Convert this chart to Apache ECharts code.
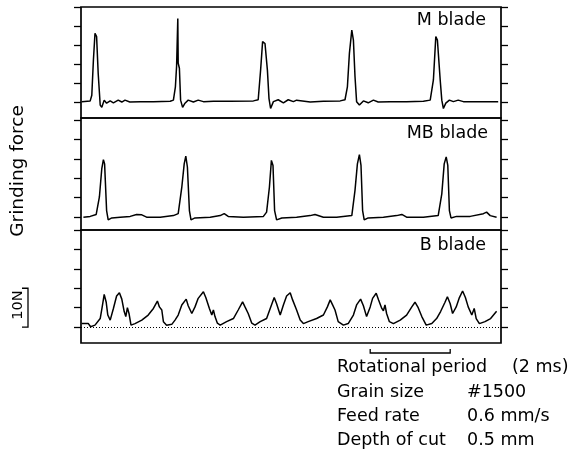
<!DOCTYPE html>
<html lang="en">
<head>
    <meta charset="UTF-8">
    <title>Grinding force</title>
    <script src="https://cdn.jsdelivr.net/npm/echarts@6/dist/echarts.min.js"></script>
    <style>
        body { margin: 0; background: #fff; }
        #main { width: 569px; height: 466px; }
    </style>
</head>
<body>
<div id="main"></div>
<script>
    // time in ms, force in N (baseline = 0)
    var mBlade = [
        [0.02, 0.1], [0.23, 0.3], [0.27, 1.8], [0.31, 11.0], [0.35, 18.1], [0.39, 17.2], [0.43, 7.5], [0.48, -0.8],
        [0.52, -1.4], [0.58, 0.5], [0.64, -0.3], [0.73, 0.3], [0.81, -0.2], [0.93, 0.5], [1.02, 0.0], [1.10, 0.5],
        [1.22, 0.0], [1.48, 0.1], [1.81, 0.1], [2.23, 0.2], [2.31, 0.5], [2.36, 4.0], [2.39, 9.5], [2.41, 10.0],
        [2.42, 22.0], [2.43, 10.2], [2.46, 8.9], [2.49, 0.5], [2.54, -1.4], [2.60, -0.3], [2.68, 0.5], [2.81, 0.0],
        [2.93, 0.5], [3.06, 0.1], [3.31, 0.2], [3.73, 0.2], [4.31, 0.3], [4.43, 0.6], [4.49, 8.4], [4.54, 15.9],
        [4.60, 15.4], [4.66, 8.4], [4.70, 0.9], [4.74, -1.7], [4.81, 0.1], [4.93, 0.6], [5.06, -0.2], [5.18, 0.6],
        [5.31, 0.1], [5.39, 0.5], [5.73, 0.0], [6.06, 0.2], [6.48, 0.3], [6.60, 0.6], [6.66, 4.0], [6.71, 12.8],
        [6.77, 18.9], [6.81, 16.3], [6.85, 6.7], [6.89, 0.1], [6.96, -0.8], [7.06, 0.3], [7.18, -0.2], [7.31, 0.5],
        [7.43, 0.0], [7.73, 0.1], [8.14, 0.1], [8.56, 0.2], [8.73, 0.5], [8.81, 5.8], [8.87, 17.2], [8.91, 16.3],
        [8.98, 5.8], [9.02, 0.5], [9.06, -1.7], [9.12, -0.3], [9.21, 0.5], [9.31, 0.1], [9.43, 0.5], [9.56, 0.1],
        [9.89, 0.1], [10.31, 0.1], [10.43, 0.1]
    ];

    var mbBlade = [
        [0.06, 0], [0.23, 0.2], [0.38, 0.7], [0.46, 5.2], [0.52, 12.5], [0.56, 14.8], [0.59, 13.7], [0.64, 1.7],
        [0.68, -0.7], [0.77, -0.2], [0.98, 0], [1.23, 0.2], [1.39, 0.7], [1.52, 0.6], [1.64, 0], [1.98, 0],
        [2.31, 0.4], [2.43, 0.9], [2.52, 7.7], [2.58, 13.7], [2.62, 15.7], [2.66, 12.9], [2.71, 1.7], [2.75, -0.7],
        [2.85, -0.2], [3.23, 0], [3.48, 0.4], [3.58, 0.9], [3.68, 0.2], [4.06, 0], [4.56, 0.2], [4.64, 1.3],
        [4.71, 7.7], [4.76, 14.6], [4.80, 13.3], [4.84, 1.7], [4.89, -0.7], [5.02, -0.2], [5.39, 0], [5.73, 0.4],
        [5.85, 0.7], [6.06, 0], [6.39, 0], [6.77, 0.4], [6.85, 6.9], [6.91, 13.7], [6.96, 16.1], [7.00, 13.3],
        [7.04, 1.7], [7.08, -0.7], [7.18, -0.2], [7.56, 0], [7.89, 0.4], [8.02, 0.7], [8.14, 0], [8.56, 0],
        [8.93, 0.4], [9.02, 6.0], [9.08, 13.7], [9.13, 15.5], [9.17, 13.3], [9.21, 1.7], [9.25, -0.2], [9.39, 0.2],
        [9.73, 0.2], [10.06, 0.9], [10.14, 1.3], [10.23, 0.4], [10.39, 0]
    ];

    var bBlade = [
        [0.02, 0.95], [0.18, 0.95], [0.24, 0.1], [0.35, 0.5], [0.48, 2.2], [0.53, 5.2], [0.58, 8.4], [0.63, 6.4],
        [0.67, 3.1], [0.73, 1.8], [0.81, 4.8], [0.89, 8.0], [0.96, 8.85], [1.02, 7.2], [1.08, 4.0], [1.12, 2.7],
        [1.16, 5.0], [1.20, 3.5], [1.25, 0.5], [1.35, 0.9], [1.52, 1.8], [1.68, 3.1], [1.81, 4.8], [1.91, 6.7],
        [1.96, 5.2], [2.02, 4.4], [2.06, 1.4], [2.14, 0.5], [2.27, 0.7],
        [2.35, 1.8], [2.43, 3.1], [2.52, 5.7], [2.63, 7.2], [2.68, 5.5], [2.77, 3.5], [2.85, 5.2], [2.93, 7.4],
        [3.06, 9.1], [3.12, 7.6], [3.21, 4.8], [3.27, 3.1], [3.31, 4.4], [3.35, 2.7], [3.41, 1.0], [3.48, 0.5],
        [3.64, 1.4], [3.81, 2.2], [3.93, 4.4], [4.04, 6.5], [4.10, 5.2], [4.18, 3.5], [4.27, 1.0], [4.35, 0.5],
        [4.48, 1.4], [4.64, 2.2], [4.73, 4.8], [4.83, 7.6], [4.89, 6.0], [4.98, 3.1], [5.06, 5.7], [5.14, 8.0],
        [5.23, 8.85], [5.29, 7.0], [5.39, 4.4], [5.48, 1.8], [5.56, 0.9], [5.68, 1.4], [5.89, 2.2], [6.06, 3.1],
        [6.16, 5.2], [6.23, 7.0], [6.29, 5.7], [6.35, 4.4], [6.43, 1.4], [6.56, 0.5], [6.68, 0.9],
        [6.81, 3.1], [6.89, 5.7], [6.99, 7.2], [7.06, 5.5], [7.14, 2.7], [7.23, 5.2], [7.29, 7.4], [7.38, 8.7],
        [7.44, 7.0], [7.52, 4.8], [7.56, 4.2], [7.60, 5.7], [7.64, 3.5], [7.71, 1.4], [7.81, 0.9], [7.98, 1.8],
        [8.14, 3.1], [8.27, 5.2], [8.35, 6.4], [8.43, 5.0], [8.52, 2.7], [8.63, 0.5],
        [8.77, 0.9], [8.89, 2.2], [8.99, 4.0], [9.10, 6.4], [9.16, 7.8], [9.23, 6.0], [9.29, 3.5], [9.38, 5.2],
        [9.46, 7.6], [9.54, 9.3], [9.61, 7.6], [9.68, 5.2], [9.77, 3.1], [9.83, 4.8], [9.88, 2.2], [9.96, 0.9],
        [10.1, 1.4], [10.24, 2.2], [10.39, 4.1]
    ];

    var panelNames = ['M blade', 'MB blade', 'B blade'];
    var yTicks = [0, 5, 10, 15, 20, 25];
    var yMin = [-4.2, -3.3, -4.1];
    var yMax = [25, 25.5, 25];
    var xMax = 10.5;
    var rotStart = 7.23;   // ms
    var rotPeriod = 2;     // ms
    var scaleBarN = 10;    // N
    var conditions = [
        ['Grain size', '#1500'],
        ['Feed rate', '0.6 mm/s'],
        ['Depth of cut', '0.5 mm']
    ];

    var font = 'DejaVu Sans';
    var gridTops = [7, 118, 230];
    var gridHeights = [111, 112, 113];
    var labelY = [20, 133, 245];
    var labelRight = [486, 488, 486];
    var allData = [mBlade, mbBlade, bBlade];

    var grids = [], xAxes = [], yAxes = [], series = [], graphics = [];
    for (var i = 0; i < 3; i++) {
        grids.push({
            left: 81, width: 420, top: gridTops[i], height: gridHeights[i],
            show: true, borderColor: '#000', borderWidth: 1.7, backgroundColor: 'transparent'
        });
        xAxes.push({
            type: 'value', gridIndex: i, min: 0, max: xMax,
            axisLine: {show: false}, axisTick: {show: false}, axisLabel: {show: false}, splitLine: {show: false}
        });
        series.push({
            type: 'line', xAxisIndex: i, yAxisIndex: i, data: allData[i],
            showSymbol: false, smooth: false, silent: true,
            lineStyle: {color: '#000', width: 1.5},
            markLine: i === 2 ? {
                silent: true, symbol: 'none', label: {show: false},
                lineStyle: {color: '#000', type: [1, 2], width: 1},
                data: [{yAxis: 0}]
            } : undefined
        });
        graphics.push({
            type: 'text', id: 'name' + i,
            style: {
                text: panelNames[i], x: labelRight[i], y: labelY[i], align: 'right', verticalAlign: 'middle',
                font: '17.5px "' + font + '"', fill: '#000'
            }
        });
    }
    // left then right tick axes for each panel
    ['left', 'right'].forEach(function (pos) {
        for (var i = 0; i < 3; i++) {
            yAxes.push({
                type: 'value', gridIndex: i, position: pos, min: yMin[i], max: yMax[i],
                axisLine: {show: false},
                axisTick: {show: true, inside: false, length: 7, customValues: yTicks,
                    lineStyle: {color: '#000', width: 1.3}},
                axisLabel: {show: false},
                splitLine: {show: false}
            });
        }
    });

    graphics.push({
        type: 'text', id: 'ytitle', rotation: Math.PI / 2, x: 18, y: 171,
        style: {text: 'Grinding force', align: 'center', verticalAlign: 'middle',
            font: '18.5px "' + font + '"', fill: '#000'}
    });
    graphics.push({
        type: 'text', id: 'scaletext', rotation: Math.PI / 2, x: 18, y: 305,
        style: {text: scaleBarN + 'N', align: 'center', verticalAlign: 'middle',
            font: '14.5px "' + font + '"', fill: '#000'}
    });
    graphics.push({
        type: 'text', id: 'rot',
        style: {text: 'Rotational period', x: 337, y: 367, verticalAlign: 'middle',
            font: '17.5px "' + font + '"', fill: '#000'}
    });
    graphics.push({
        type: 'text', id: 'rotval',
        style: {text: '(' + rotPeriod + ' ms)', x: 512, y: 367, verticalAlign: 'middle',
            font: '17.5px "' + font + '"', fill: '#000'}
    });
    conditions.forEach(function (c, k) {
        graphics.push({
            type: 'text', id: 'cl' + k,
            style: {text: c[0], x: 337, y: 392 + k * 24, verticalAlign: 'middle',
                font: '17.5px "' + font + '"', fill: '#000'}
        });
        graphics.push({
            type: 'text', id: 'cv' + k,
            style: {text: c[1], x: 467, y: 392 + k * 24, verticalAlign: 'middle',
                font: '17.5px "' + font + '"', fill: '#000'}
        });
    });

    var myChart = echarts.init(document.getElementById('main'), null, {renderer: 'canvas'});
    myChart.setOption({
        animation: false,
        backgroundColor: '#fff',
        grid: grids,
        xAxis: xAxes,
        yAxis: yAxes,
        series: series,
        graphic: graphics
    });

    // brackets placed through the axes
    var x0 = myChart.convertToPixel({xAxisIndex: 2}, rotStart);
    var x1 = myChart.convertToPixel({xAxisIndex: 2}, rotStart + rotPeriod);
    var yb0 = myChart.convertToPixel({yAxisIndex: 2}, 0);
    var yb1 = myChart.convertToPixel({yAxisIndex: 2}, scaleBarN);
    myChart.setOption({
        graphic: [
            {
                type: 'polyline', id: 'rotbracket',
                shape: {points: [[x0, 349], [x0, 353], [x1, 353], [x1, 349]]},
                style: {stroke: '#000', lineWidth: 1.3, fill: null}
            },
            {
                type: 'polyline', id: 'nbracket',
                shape: {points: [[22, yb1], [28, yb1], [28, yb0], [22, yb0]]},
                style: {stroke: '#000', lineWidth: 1.3, fill: null}
            }
        ]
    });
</script>
</body>
</html>
